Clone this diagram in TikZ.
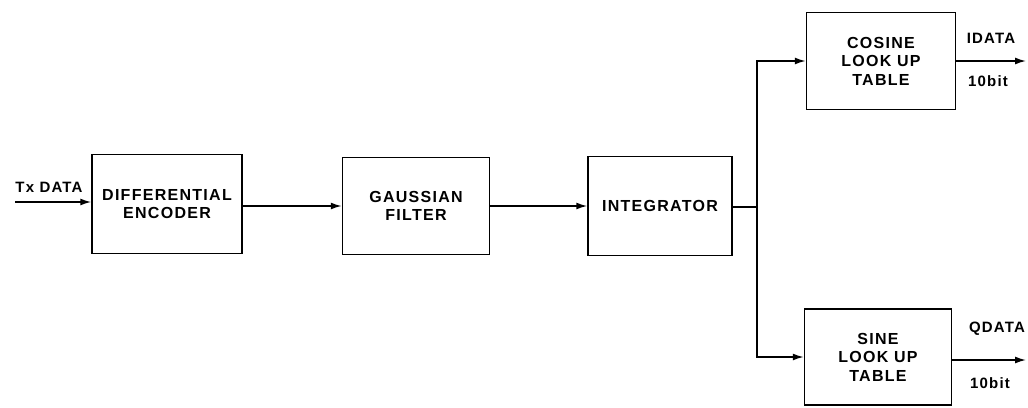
\documentclass[tikz,border=0pt]{standalone}
\usepackage{fontspec}
\setmainfont{Liberation Sans}[LetterSpace=8]
\usetikzlibrary{arrows.meta}
\begin{document}
\begin{tikzpicture}[x=1pt, y=-1pt,
    block/.style={draw, line width=1.5pt, rectangle, align=center, font=\fontsize{16}{18.5}\selectfont\bfseries},
    sig/.style={font=\fontsize{15}{17}\selectfont\bfseries},
    flow/.style={line width=1.5pt, -{Latex[length=11pt, width=7pt]}}]
    \useasboundingbox (0,0) rectangle (1028,407);

    % Main chain blocks
    \node[block, minimum width=150, minimum height=99] (dienc) at (167,204) {DIFFERENTIAL\\ENCODER};
    \node[block, minimum width=147, minimum height=97] (gauss) at (416,206) {GAUSSIAN\\FILTER};
    \node[block, minimum width=144, minimum height=99] (integ) at (660,206) {INTEGRATOR};

    % Look up tables
    \node[block, minimum width=149, minimum height=97] (coslut) at (881,61) {COSINE\\LOOK UP\\TABLE};
    \node[block, minimum width=147, minimum height=96] (sinlut) at (878,357) {SINE\\LOOK UP\\TABLE};

    % Branch point and free ends
    \coordinate (split) at (757,207);
    \coordinate (txin) at (15,202);
    \coordinate (iout) at (1026,61);
    \coordinate (qout) at (1026,360);

    % Signal labels
    \node[sig] (txlbl) at (49,187) {Tx DATA};
    \node[sig] (ilbl) at (991,38) {IDATA};
    \node[sig] (ibit) at (988,81) {10bit};
    \node[sig] (qlbl) at (997,329) {QDATA};
    \node[sig] (qbit) at (990,383) {10bit};

    % Connectors
    \draw[flow] (txin) -- (txin -| dienc.west);
    \draw[flow] (dienc.east |- gauss) -- (gauss.west);
    \draw[flow] (gauss) -- (integ);
    \draw[line width=1.5pt] (integ.east |- split) -- (split);
    \draw[flow] (split) |- (coslut.west);
    \draw[flow] (split) |- (sinlut.west);
    \draw[flow] (coslut.east) -- (iout);
    \draw[flow] (sinlut.east |- qout) -- (qout);
\end{tikzpicture}
\end{document}
